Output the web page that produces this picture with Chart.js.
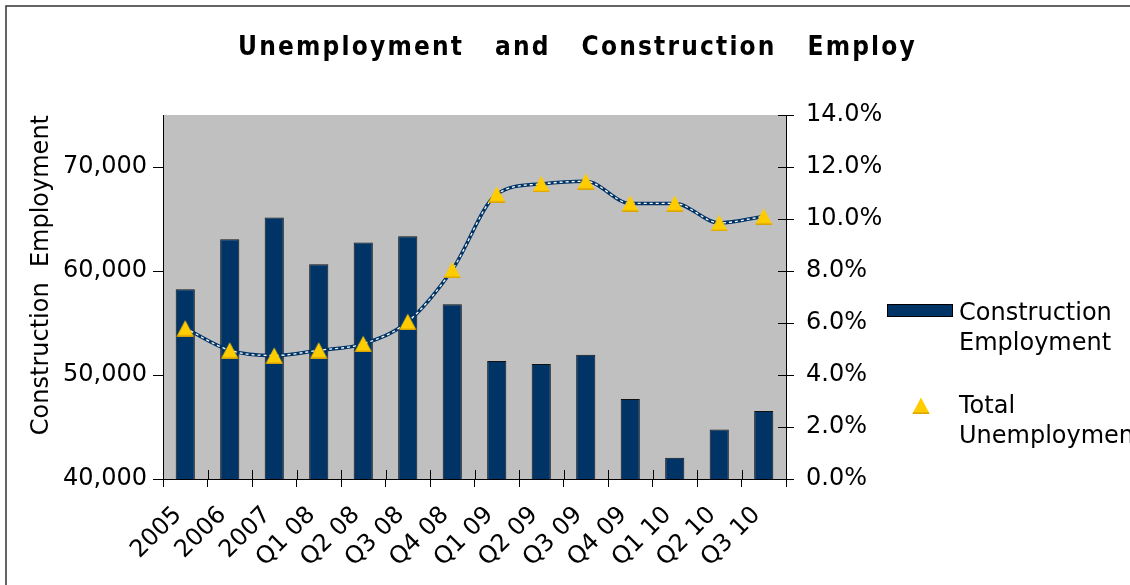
<!DOCTYPE html>
<html><head><meta charset="utf-8">
<script src="https://cdn.jsdelivr.net/npm/chart.js@4.4.0/dist/chart.umd.min.js"></script>
<style>html,body{margin:0;padding:0;background:#fff;overflow:hidden}</style>
</head><body>
<canvas id="c" width="1130" height="585" style="display:block;width:1130px;height:585px"></canvas>
<script>
const chartTitle = 'Unemployment and Construction Employ';
const categories = ['2005','2006','2007','Q1 08','Q2 08','Q3 08','Q4 08','Q1 09','Q2 09','Q3 09','Q4 09','Q1 10','Q2 10','Q3 10'];
const constructionEmployment = [58250,63050,65150,60650,62750,63350,56800,51350,51050,51950,47700,42050,44750,46550];
const totalUnemployment = [5.8,4.95,4.75,4.95,5.2,6.05,8.05,10.95,11.35,11.45,10.6,10.6,9.85,10.1];
const leftTickValues = [40000, 50000, 60000, 70000];
const rightTickValues = [0, 2, 4, 6, 8, 10, 12, 14];
const leftRange = [40000, 75000];
const rightRange = [0, 14];
const leftTitle = 'Construction  Employment';

const NAVY = '#003366', GOLD = '#ffcc00';
const FONT = '"DejaVu Sans", Verdana, sans-serif';

function makeTriangle() {
  const c = document.createElement('canvas');
  c.width = 18; c.height = 17;
  const g = c.getContext('2d');
  g.beginPath(); g.moveTo(9, 0.5); g.lineTo(17.5, 16.5); g.lineTo(0.5, 16.5); g.closePath();
  g.fillStyle = GOLD; g.fill();
  g.strokeStyle = '#d9a300'; g.lineWidth = 1.5;
  g.beginPath(); g.moveTo(0.8, 16.2); g.lineTo(17.2, 16.2); g.stroke();
  return c;
}
const tri = makeTriangle();

function drawTitle(ctx) {
  ctx.save();
  ctx.fillStyle = '#000';
  ctx.font = 'bold 26px ' + FONT;
  try { ctx.fontStretch = 'condensed'; } catch (e) {}
  ctx.textBaseline = 'alphabetic'; ctx.textAlign = 'left';
  const words = chartTitle.split(' ');
  const firstW = ctx.measureText(words[0]).width;
  const ls = Math.max(0.5, (224 - firstW) / (words[0].length - 1));
  ctx.letterSpacing = ls + 'px';
  let x = 238;
  const gap = 33;
  words.forEach(w => {
    ctx.fillText(w, x, 55);
    x += ctx.measureText(w).width - ls + gap;
  });
  ctx.restore();
}

const decor = {
  id: 'decor',
  beforeDraw(chart) {
    const {ctx, chartArea: a} = chart;
    ctx.save();
    ctx.fillStyle = '#fff'; ctx.fillRect(0, 0, chart.width, chart.height);
    ctx.fillStyle = '#c0c0c0'; ctx.fillRect(a.left, a.top, a.right - a.left, a.bottom - a.top);
    ctx.strokeStyle = '#333'; ctx.lineWidth = 1.5;
    ctx.strokeRect(6, 6, 1300, 800);
    ctx.restore();
  },
  afterDraw(chart) {
    const {ctx, chartArea: a} = chart;
    const x = chart.scales.x, y1 = chart.scales.y1;
    ctx.save();
    ctx.strokeStyle = '#000'; ctx.lineWidth = 1;
    for (let i = 0; i <= categories.length; i++) {
      const px = Math.round(x.getPixelForValue(i - 0.5)) + 0.5;
      ctx.beginPath(); ctx.moveTo(px, a.bottom); ctx.lineTo(px, a.bottom - 9); ctx.stroke();
    }
    y1.ticks.forEach(t => {
      const py = Math.round(y1.getPixelForValue(t.value)) + 0.5;
      ctx.beginPath(); ctx.moveTo(a.right, py); ctx.lineTo(a.right - 8, py); ctx.stroke();
    });
    ctx.restore();
    drawTitle(ctx);
    // legend
    ctx.save();
    const ds = chart.data.datasets;
    ctx.font = '24px ' + FONT;
    ctx.textBaseline = 'alphabetic'; ctx.textAlign = 'left';
    ctx.fillStyle = NAVY; ctx.fillRect(887.5, 304.5, 65, 12);
    ctx.strokeStyle = '#000'; ctx.lineWidth = 1; ctx.strokeRect(887.5, 304.5, 65, 12);
    ctx.fillStyle = '#000';
    ds[0].label.split(' ').forEach((w, i) => ctx.fillText(w, 959, 320 + i * 30));
    ctx.drawImage(tri, 912, 397);
    ds[3].label.split(' ').forEach((w, i) => ctx.fillText(w, 959, 413 + i * 30));
    ctx.restore();
  }
};

new Chart(document.getElementById('c'), {
  data: {
    labels: categories,
    datasets: [
      {type: 'bar', label: 'Construction Employment', data: constructionEmployment, yAxisID: 'y',
       backgroundColor: NAVY, borderColor: '#111', borderWidth: 1,
       categoryPercentage: 1, barPercentage: 0.43, order: 4},
      {type: 'line', label: 'trend', data: totalUnemployment, yAxisID: 'y1',
       borderColor: NAVY, borderWidth: 3.5, pointRadius: 0, fill: false,
       cubicInterpolationMode: 'monotone', order: 3},
      {type: 'line', label: 'trend2', data: totalUnemployment, yAxisID: 'y1',
       borderColor: '#ffffff', borderWidth: 1.3, borderDash: [3, 3], pointRadius: 0, fill: false,
       cubicInterpolationMode: 'monotone', order: 2},
      {type: 'line', label: 'Total Unemployment', data: totalUnemployment, yAxisID: 'y1',
       showLine: false, pointStyle: tri, pointRadius: 9, pointHoverRadius: 9, order: 1}
    ]
  },
  options: {
    responsive: false, animation: false, devicePixelRatio: 1,
    layout: {padding: {top: 115, left: 0, right: 234, bottom: 0}},
    plugins: {legend: {display: false}, tooltip: {enabled: false}, title: {display: false}},
    scales: {
      x: {
        type: 'category', offset: true,
        grid: {offset: true, drawOnChartArea: false, tickLength: 8, color: '#000'},
        border: {display: true, color: '#000', width: 1},
        ticks: {font: {family: FONT, size: 24}, color: '#000', minRotation: 45, maxRotation: 45,
                autoSkip: false, padding: 14, labelOffset: -7},
        afterFit(s) { s.height = 106; }
      },
      y: {
        position: 'left', min: leftRange[0], max: leftRange[1],
        afterBuildTicks(s) { s.ticks = leftTickValues.map(v => ({value: v})); },
        grid: {drawOnChartArea: false, tickLength: 10, color: '#000'},
        border: {display: true, color: '#000', width: 1},
        ticks: {font: {family: FONT, size: 24}, color: '#000', padding: 6,
                callback: v => v.toLocaleString('en-US')},
        title: {display: true, text: leftTitle, align: 'end', color: '#000',
                font: {family: FONT, size: 24}, padding: {top: 27, bottom: 0}},
        afterFit(s) { s.width = 163; }
      },
      y1: {
        position: 'right', min: rightRange[0], max: rightRange[1],
        afterBuildTicks(s) { s.ticks = rightTickValues.map(v => ({value: v})); },
        grid: {drawOnChartArea: false, tickLength: 8, color: '#000'},
        border: {display: true, color: '#000', width: 1},
        ticks: {font: {family: FONT, size: 24}, color: '#000', padding: 12,
                callback: v => v.toFixed(1) + '%'},
        afterFit(s) { s.width = 110; }
      }
    }
  },
  plugins: [decor]
});
</script>
</body></html>
